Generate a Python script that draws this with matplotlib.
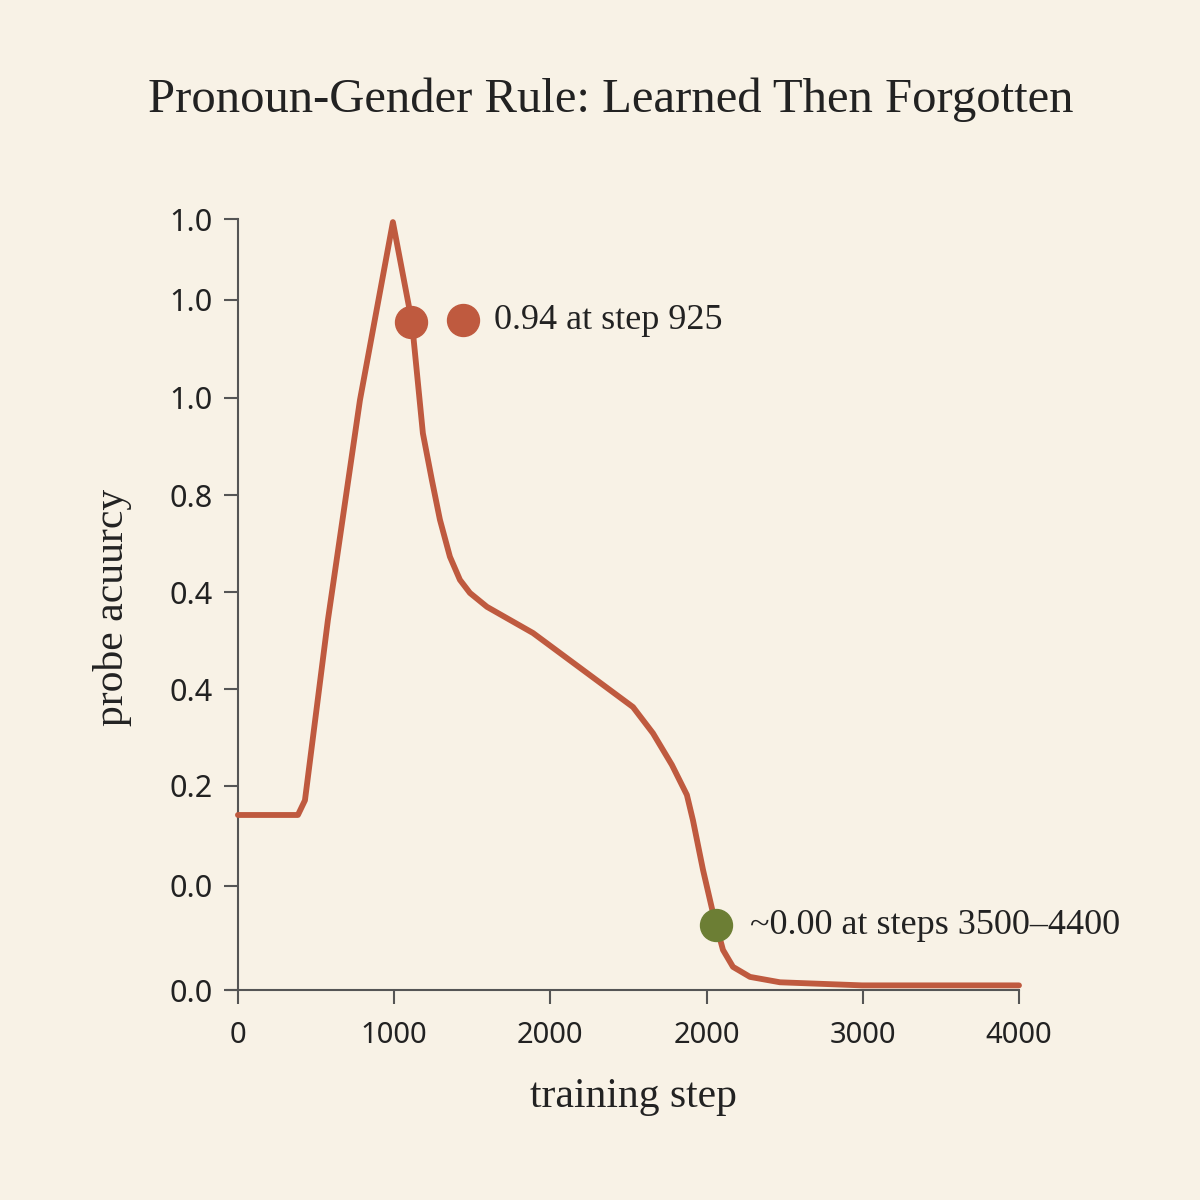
import matplotlib.pyplot as plt

# curve (x in axis position units, ticks every 1000)
steps = [0, 384, 429, 576, 781, 992, 1114, 1184, 1242, 1293, 1357, 1421,
         1485, 1594, 1889, 2529, 2657, 2778, 2874, 2913, 2977, 3041, 3105,
         3169, 3278, 3470, 3995, 5000]
acc = [0.227, 0.227, 0.246, 0.480, 0.765, 0.996, 0.866, 0.722, 0.661, 0.610,
       0.562, 0.532, 0.515, 0.497, 0.463, 0.367, 0.333, 0.292, 0.253, 0.220,
       0.156, 0.100, 0.052, 0.030, 0.017, 0.010, 0.006, 0.006]

xtick_pos = [0, 1000, 2000, 3000, 4000, 5000]
xtick_labels = ['0', '1000', '2000', '2000', '3000', '4000']
ytick_pos = [0, 0.135, 0.265, 0.390, 0.516, 0.642, 0.768, 0.895, 1.0]
ytick_labels = ['0.0', '0.0', '0.2', '0.4', '0.4', '0.8', '1.0', '1.0', '1.0']

peak_pt = (1108, 0.866)
peak_key = (1440, 0.869)
peak_text = '0.94 at step 925'
low_pt = (3060, 0.084)
low_text = '~0.00 at steps 3500\u20134400'

bg = '#f8f2e6'
red = '#bf5a3f'
green = '#6c7e34'
ink = '#222222'
serif = ['Liberation Serif', 'DejaVu Serif']
sans = ['Noto Sans', 'DejaVu Sans']

fig = plt.figure(figsize=(12, 12), dpi=100, facecolor=bg)
ax = fig.add_axes([227 / 1200, 210 / 1200, (1019 - 227) / 1200, (990 - 219) / 1200])
ax.set_facecolor(bg)

ax.plot(steps, acc, color=red, lw=4.2, solid_capstyle='round',
        solid_joinstyle='round', clip_on=False, zorder=3)
ax.plot(*peak_pt, 'o', color=red, ms=23, clip_on=False, zorder=4)
ax.plot(*peak_key, 'o', color=red, ms=23, clip_on=False, zorder=4)
ax.text(1640, 0.869, peak_text, fontsize=26, family=serif, color=ink, va='center')
ax.plot(*low_pt, 'o', color=green, ms=23, clip_on=False, zorder=4)
ax.text(3275, 0.084, low_text, fontsize=26, family=serif, color=ink, va='center')

ax.set_xlim(-70, 5000)
ax.set_ylim(0, 1.0)
ax.spines['left'].set_position(('data', 0))
ax.spines['right'].set_visible(False)
ax.spines['top'].set_visible(False)
for s in ['left', 'bottom']:
    ax.spines[s].set_color('#555555')
    ax.spines[s].set_linewidth(1.5)

ax.set_xticks(xtick_pos)
ax.set_xticklabels(xtick_labels, family=sans, fontsize=21, color=ink)
ax.set_yticks(ytick_pos)
ax.set_yticklabels(ytick_labels, family=sans, fontsize=22, color=ink)
ax.tick_params(axis='both', length=10, width=1.5, color='#555555')
ax.tick_params(axis='x', pad=12)
ax.tick_params(axis='y', pad=8)

fig.text(633 / 1200, 1 - 1097 / 1200, 'training step', family=serif,
         fontsize=30, color=ink, ha='center', va='center')
fig.text(112 / 1200, 1 - 607 / 1200, 'probe acuurcy', family=serif,
         fontsize=30, color=ink, ha='center', va='center', rotation=90)
fig.text(611 / 1200, 1 - 100 / 1200, 'Pronoun-Gender Rule: Learned Then Forgotten',
         family=serif, fontsize=35, color=ink, ha='center', va='center')

fig.savefig('out.png', dpi=100, facecolor=bg)
